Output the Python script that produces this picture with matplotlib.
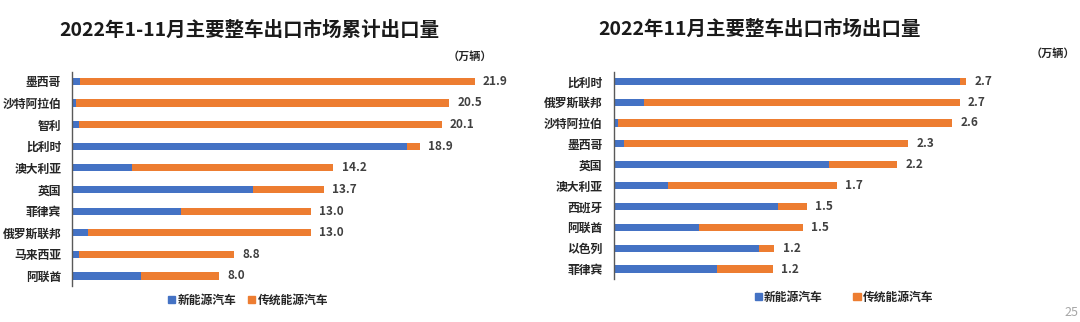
import matplotlib
matplotlib.use("Agg")
import matplotlib.pyplot as plt
import matplotlib.patches as mpatches

plt.rcParams["font.family"] = ["Noto Sans CJK SC", "DejaVu Sans"]

# 2022年1-11月 累计 (万辆)
cum_countries = ["墨西哥", "沙特阿拉伯", "智利", "比利时", "澳大利亚",
                 "英国", "菲律宾", "俄罗斯联邦", "马来西亚", "阿联酋"]
cum_nev = [0.41, 0.22, 0.36, 18.2, 3.23, 9.81, 5.91, 0.88, 0.36, 3.75]
cum_ice = [21.49, 20.28, 19.74, 0.70, 10.97, 3.89, 7.09, 12.12, 8.44, 4.25]

# 2022年11月 (万辆)
nov_countries = ["比利时", "俄罗斯联邦", "沙特阿拉伯", "墨西哥", "英国",
                 "澳大利亚", "西班牙", "阿联酋", "以色列", "菲律宾"]
nov_nev = [2.67, 0.23, 0.03, 0.08, 1.66, 0.42, 1.27, 0.66, 1.12, 0.80]
nov_ice = [0.05, 2.44, 2.58, 2.19, 0.53, 1.30, 0.22, 0.80, 0.12, 0.43]

series_names = ["新能源汽车", "传统能源汽车"]
BLUE = "#4472C4"
ORANGE = "#ED7D31"

fig = plt.figure(figsize=(10.8, 3.22), dpi=100)


def draw(ax, countries, nev, ice, xmax, ylim, bar_h):
    y = list(range(len(countries)))
    ax.barh(y, nev, height=bar_h, color=BLUE)
    ax.barh(y, ice, left=nev, height=bar_h, color=ORANGE)
    for i, (a, b) in enumerate(zip(nev, ice)):
        tot = a + b
        ax.annotate(f"{tot:.1f}", (tot, i), xytext=(6, 0),
                    textcoords="offset points", va="center", ha="left",
                    fontsize=8.5, fontweight="bold", color="#404040")
    ax.set_xlim(0, xmax)
    ax.set_ylim(*ylim)
    ax.set_yticks(y)
    ax.set_yticklabels(countries, fontsize=8.5, fontweight="bold", color="#262626")
    ax.set_xticks([])
    ax.tick_params(axis="y", length=0, pad=8)
    for s in ["top", "right", "bottom"]:
        ax.spines[s].set_visible(False)
    ax.spines["left"].set_color("#595959")
    ax.spines["left"].set_linewidth(1.0)


ax1 = fig.add_axes([72.3 / 1080, 36.5 / 322, (500 - 72.3) / 1080, 213.5 / 322])
draw(ax1, cum_countries, cum_nev, cum_ice, 23.28, (9.44, -0.43), 0.33)

ax2 = fig.add_axes([613.7 / 1080, 43.3 / 322, (1075 - 613.7) / 1080, 206.7 / 322])
draw(ax2, nov_countries, nov_nev, nov_ice, 3.56, (9.465, -0.445), 0.34)

# titles
fig.text(249 / 1080, 1 - 30 / 322, "2022年1-11月主要整车出口市场累计出口量",
         ha="center", va="center", fontsize=14, fontweight="bold", color="#1a1a1a")
fig.text(760 / 1080, 1 - 29 / 322, "2022年11月主要整车出口市场出口量",
         ha="center", va="center", fontsize=14, fontweight="bold", color="#1a1a1a")

# units
fig.text(470 / 1080, 1 - 56 / 322, "（万辆）", ha="center", va="center",
         fontsize=8, fontweight="bold", color="#262626")
fig.text(1053 / 1080, 1 - 53 / 322, "（万辆）", ha="center", va="center",
         fontsize=8, fontweight="bold", color="#262626")

# legends
handles = [mpatches.Patch(color=BLUE, label=series_names[0]),
           mpatches.Patch(color=ORANGE, label=series_names[1])]
leg_kw = dict(ncol=2, loc="center", frameon=False, handlelength=0.6,
              handleheight=0.6, handletextpad=0.2,
              prop={"size": 8.5, "weight": "bold"})
leg1 = fig.legend(handles=handles, bbox_to_anchor=(248 / 1080, 1 - 300 / 322),
                  columnspacing=1.0, **leg_kw)
leg2 = fig.legend(handles=handles, bbox_to_anchor=(844 / 1080, 1 - 297 / 322),
                  columnspacing=2.6, **leg_kw)
for lg in (leg1, leg2):
    for t in lg.get_texts():
        t.set_color("#262626")

# page number
fig.text(1078 / 1080, 1 - 312 / 322, "25", ha="right", va="center",
         fontsize=9, color="#a6a6a6")

fig.savefig("out.png", dpi=100)
